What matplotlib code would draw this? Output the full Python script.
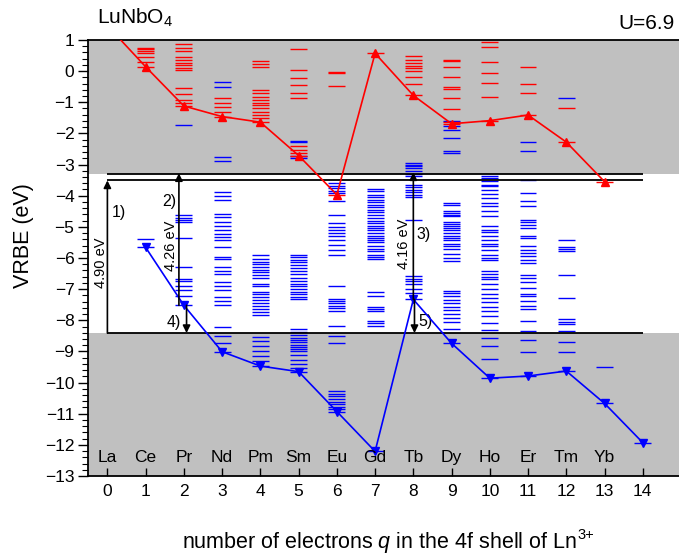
import matplotlib
matplotlib.use("Agg")
import matplotlib.pyplot as plt
from matplotlib.ticker import MultipleLocator
from matplotlib.transforms import offset_copy

plt.rcParams['font.family'] = ['Liberation Sans', 'DejaVu Sans']
plt.rcParams['mathtext.fontset'] = 'custom'
plt.rcParams['mathtext.rm'] = 'Liberation Sans'
plt.rcParams['mathtext.it'] = 'Liberation Sans:italic'

# ---------------- data ----------------
elements = ["La", "Ce", "Pr", "Nd", "Pm", "Sm", "Eu", "Gd", "Tb", "Dy", "Ho", "Er", "Tm", "Yb"]
q_red = list(range(0, 14))
q_blue = list(range(1, 15))
ln2_ground = [1.46, 0.14, -1.12, -1.46, -1.64, -2.71, -3.97, 0.57, -0.78, -1.69, -1.59, -1.41, -2.28, -3.55]
ln3_ground = [-5.66, -7.52, -9.01, -9.47, -9.65, -10.93, -12.21, -7.33, -8.74, -9.86, -9.79, -9.63, -10.67, -11.93]

E_C = -3.30
E_X = -3.51
E_V = -8.41

# Ln3+ excited levels (blue), absolute VRBE (eV)
ce3 = [-5.38]
pr3 = [-7.23, -7.04, -6.91, -6.75, -6.66, -6.29, -5.36, -4.86, -4.77, -4.71, -4.63, -1.72]
nd3 = [-8.74, -8.49, -8.21, -7.52, -7.39, -7.25, -7.03, -6.91, -6.78, -6.53, -6.43, -6.29, -6.03, -5.96,
       -5.64, -5.41, -5.32, -5.22, -5.09, -4.98, -4.86, -4.68, -4.58, -4.15, -4.02, -3.88, -2.87, -2.76,
       -0.50, -0.34]
pm3 = [-9.31, -9.15, -8.99, -8.83, -8.67, -8.53, -7.82, -7.74, -7.65, -7.55, -7.46, -7.35, -7.26, -7.17,
       -7.10, -6.91, -6.82, -6.64, -6.54, -6.46, -6.37, -6.29, -6.20, -6.12, -6.03, -5.92]
sm3 = [-9.52, -9.42, -9.26, -9.13, -8.99, -8.91, -8.85, -8.78, -8.70, -8.64, -8.56, -8.46, -8.38, -8.27,
       -7.33, -7.25, -7.17, -7.10, -6.99, -6.91, -6.82, -6.75, -6.64, -6.53, -6.43, -6.32, -6.21, -6.14,
       -6.05, -5.98, -5.89, -2.80, -2.72, -2.29, -2.23]
eu3 = [-10.85, -10.77, -10.69, -10.61, -10.52, -10.44, -10.37, -10.27, -8.72, -8.51, -8.19, -7.71, -7.62,
       -7.55, -7.46, -7.39, -7.31, -6.91, -5.89, -5.73, -5.57, -5.41, -5.30, -5.20, -5.09, -4.99, -4.88,
       -4.61, -4.18, -3.91, -3.84, -3.75, -3.68, -3.59]
gd3 = [-8.17, -8.10, -8.03, -7.71, -7.63, -7.57, -7.23, -7.10, -6.03, -5.96, -5.89, -5.78, -5.71, -5.60,
       -5.49, -5.41, -5.35, -5.30, -5.20, -5.11, -5.03, -4.96, -4.87, -4.82, -4.71, -4.61, -4.53, -4.45,
       -4.36, -4.29, -4.20, -4.13, -4.04, -3.97, -3.86, -3.79]
tb3 = [-7.14, -6.99, -6.85, -6.75, -6.67, -6.59, -4.77, -4.04, -3.97, -3.89, -3.81, -3.72, -3.65, -3.38,
       -3.29, -3.22, -3.12, -3.06, -3.00, -2.95]
dy3 = [-8.27, -8.06, -7.92, -7.81, -7.68, -7.57, -7.46, -7.36, -7.23, -7.14, -7.07, -6.10, -5.99, -5.86,
       -5.71, -5.62, -5.54, -5.43, -5.36, -5.28, -5.20, -5.11, -5.03, -4.96, -4.90, -4.86, -4.66, -4.61,
       -4.55, -4.50, -4.29, -4.23, -2.63, -2.58, -2.15, -1.88, -1.76, -1.59]
ho3 = [-9.23, -8.83, -8.58, -8.31, -8.10, -7.87, -7.71, -7.57, -7.42, -7.28, -7.17, -6.99, -6.85, -6.69,
       -6.61, -6.50, -6.43, -6.07, -5.99, -5.92, -5.73, -5.60, -5.54, -5.43, -5.28, -5.17, -5.09, -4.98,
       -4.66, -4.50, -4.34, -4.23, -4.07, -3.94, -3.81, -3.70, -3.65, -3.54, -3.43, -3.38]
er3 = [-9.02, -8.62, -8.33, -8.03, -7.63, -7.55, -7.39, -7.23, -7.17, -6.96, -6.78, -6.64, -6.56, -6.16,
       -6.05, -5.95, -5.84, -5.73, -5.60, -5.36, -5.28, -5.04, -4.93, -4.86, -4.79, -4.32, -4.18, -3.91,
       -3.49, -2.58, -2.26]
tm3 = [-9.01, -8.70, -8.35, -8.13, -8.05, -7.97, -7.28, -6.56, -5.78, -5.71, -5.64, -5.43, -0.87]
yb3 = [-9.50]
lu3 = []
ln3_levels = [ce3, pr3, nd3, pm3, sm3, eu3, gd3, tb3, dy3, ho3, er3, tm3, yb3, lu3]

# Ln2+ excited levels (red), absolute VRBE (eV)
la2 = []
ce2 = [0.30, 0.46, 0.57, 0.65, 0.70, 0.75]
pr2 = [0.86, 0.75, 0.66, 0.45, 0.36, 0.27, 0.19, 0.10, 0.04, -0.55, -0.73, -0.92, -1.03]
nd2 = [-0.85, -1.01, -1.16, -1.30]
pm2 = [0.33, 0.23, 0.14, -0.60, -0.71, -0.82, -0.92, -1.01, -1.08, -1.19, -1.30, -1.40, -1.51]
sm2 = [0.70, 0.02, -0.23, -0.45, -0.71, -0.87, -2.40, -2.52, -2.63]
eu2 = [-0.02, -0.07, -0.47]
gd2 = []
tb2 = [0.50, 0.36, 0.27, 0.18, 0.09, 0.01, -0.20, -0.41]
dy2 = [0.36, 0.32, 0.12, -0.20, -0.50, -0.58, -0.86, -1.21, -1.62]
ho2 = [0.93, 0.79, 0.29, -0.07, -0.37, -0.84]
er2 = [0.12, -0.42, -0.69]
tm2 = [-1.19]
yb2 = []
ln2_levels = [la2, ce2, pr2, nd2, pm2, sm2, eu2, gd2, tb2, dy2, ho2, er2, tm2, yb2]

# ---------------- figure ----------------
fig = plt.figure(figsize=(6.79, 5.56), dpi=100)
ax = fig.add_axes([0.130, 0.1439, 0.873, 0.7842])
ax.set_xlim(-0.5, 15)
ax.set_ylim(-13, 1)

GRAY = '#c0c0c0'
ax.axhspan(E_C, 1, color=GRAY, lw=0, zorder=0)
ax.axhspan(-13, E_V, color=GRAY, lw=0, zorder=0)

HW = 0.22
BLUE = '#0000ff'
RED = '#ff0000'
for q, g, lv in zip(q_blue, ln3_ground, ln3_levels):
    ys = [g] + lv
    ax.hlines(ys, q - HW, q + HW, colors=BLUE, lw=1.0, zorder=2)
for q, g, lv in zip(q_red, ln2_ground, ln2_levels):
    ys = [g] + lv
    ax.hlines(ys, q - HW, q + HW, colors=RED, lw=1.0, zorder=2)

# band edge lines
for yy in (E_C, E_X, E_V):
    ax.hlines(yy, 0, 14, colors='k', lw=1.3, zorder=3)

ax.plot(q_red, ln2_ground, color=RED, lw=1.2, marker='^', ms=6, zorder=4)
ax.plot(q_blue, ln3_ground, color=BLUE, lw=1.2, marker='v', ms=6, zorder=4)

# arrows
def arrow(x, y0, y1):
    ax.annotate('', xy=(x, y1), xytext=(x, y0),
                arrowprops=dict(arrowstyle='-|>', color='k', lw=1.2, mutation_scale=11,
                                shrinkA=0, shrinkB=0), zorder=5)

arrow(0.0, E_V, E_X)
arrow(1.87, ln3_ground[1], E_C + 0.02)
arrow(2.07, ln3_ground[1], E_V)
arrow(8.0, ln3_ground[7], E_C + 0.05)
arrow(8.03, ln3_ground[7], E_V)

ax.text(0.30, -4.54, '1)', fontsize=11.5, ha='center', va='center')
ax.text(-0.17, -6.15, '4.90 eV', fontsize=10.5, rotation=90, ha='center', va='center')
ax.text(1.63, -4.18, '2)', fontsize=11.5, ha='center', va='center')
ax.text(1.66, -5.60, '4.26 eV', fontsize=10.5, rotation=90, ha='center', va='center')
ax.text(1.73, -8.07, '4)', fontsize=11.5, ha='center', va='center')
ax.text(8.27, -5.25, '3)', fontsize=11.5, ha='center', va='center')
ax.text(7.75, -5.54, '4.16 eV', fontsize=10.5, rotation=90, ha='center', va='center')
ax.text(8.31, -8.05, '5)', fontsize=11.5, ha='center', va='center')

for i, name in enumerate(elements):
    ax.text(i, -12.54, name, fontsize=12.5, ha='center', va='baseline', zorder=6)

# ticks
ax.set_xticks(range(0, 15))
ax.yaxis.set_major_locator(MultipleLocator(1))
ax.yaxis.set_minor_locator(MultipleLocator(0.2))
ax.tick_params(axis='x', direction='in', length=6, width=1, labelsize=12.5, pad=6)
ax.tick_params(axis='y', which='major', direction='out', length=7, width=1, labelsize=12.5, pad=3)
ax.tick_params(axis='y', which='minor', direction='out', length=4, width=0.8)
for s in ax.spines.values():
    s.set_linewidth(1.3)
ax.spines['right'].set_visible(False)

fig.text(0.035, 0.577, 'VRBE (eV)', rotation=90, fontsize=15.5, ha='center', va='center')

# x label with superscript built from two text pieces
xl = fig.text(0.268, 0.0144, 'number of electrons $q$ in the 4f shell of Ln', fontsize=15.5,
              ha='left', va='baseline')
fig.canvas.draw()
bb = xl.get_window_extent()
fig.text(bb.x1 / fig.bbox.width + 0.001, 0.0144 + 9.0 / 556, '3+', fontsize=10.5,
         ha='left', va='baseline')

fig.text(0.1424, 0.958, 'LuNbO$_4$', fontsize=15, ha='left', va='baseline')
fig.text(0.994, 0.947, 'U=6.9', fontsize=15, ha='right', va='baseline')

fig.savefig('out.png', dpi=100)
